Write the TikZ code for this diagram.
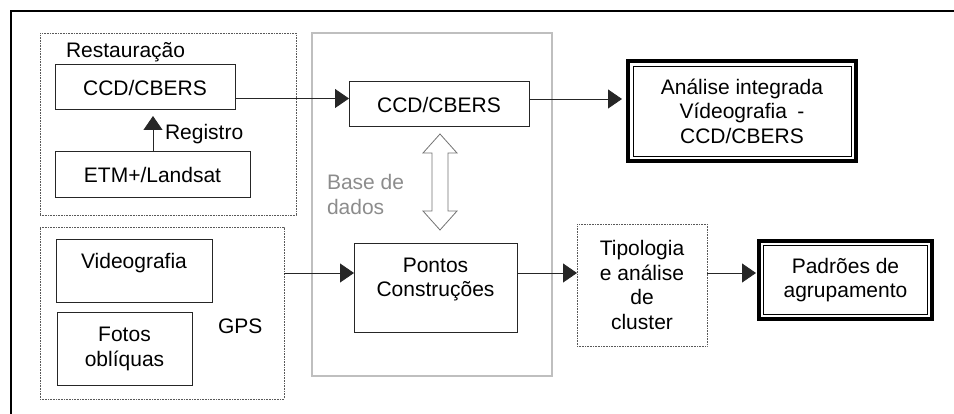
\documentclass[tikz,border=0pt]{standalone}
\usepackage{fontspec}
\setmainfont{Liberation Sans}
\usetikzlibrary{arrows.meta,calc}
\begin{document}
\begin{tikzpicture}[x=1pt,y=-1pt,
  every node/.style={font=\fontsize{21}{24.5}\selectfont, inner sep=0pt, outer sep=0pt},
  sz/.style 2 args={minimum width=#1pt, minimum height=#2pt},
  box/.style={draw=black!85, line width=1pt, align=center},
  dotbox/.style={draw=black!65, line width=0.7pt, dash pattern=on 0.8pt off 0.8pt, align=center},
  basebox/.style={draw=black!25, line width=1.6pt},
  dblbox/.style={draw=black, line width=3.6pt, align=center},
  inner/.style={draw=black, line width=0.9pt},
  arr/.style={draw=black!85, line width=0.9pt, -{Triangle[length=14pt,width=19pt]}},
  hollow/.style={draw=black!55, line width=0.8pt, fill=white},
  note/.style={anchor=west, align=left}
]
\useasboundingbox (0,0) rectangle (954,414);
% outer frame (top and left edges)
\draw[line width=2pt] (954,11) -- (11,11) -- (11,414);

% groups
\node[dotbox, sz={256}{182}] (grp1) at (168,124) {};
\node[dotbox, sz={244}{172}] (grp2) at (162,313) {};
\node[basebox, sz={240}{343}] (base) at (432,204.5) {};

% left column
\node[note] (rest) at (66,52) {Restauração};
\node[box, sz={180}{45}] (ccd1) at (145,87.5) {CCD/CBERS};
\node[box, sz={195}{46}] (etm) at (152.5,175) {ETM+/Landsat};
\node[note] (reg) at (165,134) {Registro};
\node[box, sz={156}{63}] (video) at (134,271.5) {};
\node at ($(video.center)+(0,-8.5)$) {Videografia};
\node[box, sz={135}{72}] (fotos) at (124.5,349) {Fotos\\oblíquas};
\node[note] (gps) at (218,326) {GPS};

% middle column
\node[box, sz={180}{45}] (ccd2) at (439,104.5) {CCD/CBERS};
\node[box, sz={163}{89}] (pontos) at (435.5,288.5) {};
\node[align=center] at ($(pontos.center)+(0,-9)$) {Pontos\\Construções};
\node[note, text=black!45] (bd) at (327,194.5) {Base de\\dados};

% right column
\node[dblbox, sz={228}{100}] (analise) at (742,111) {Análise integrada\\Vídeografia\enspace -\\CCD/CBERS};
\draw[inner] ([shift={(5pt,-5pt)}]analise.north west) rectangle ([shift={(-5pt,5pt)}]analise.south east);
\node[dotbox, sz={130}{122}] (tipo) at (642,285) {Tipologia\\e análise\\de\\cluster};
\node[dblbox, sz={173}{78.5}] (padroes) at (845.5,280) {Padrões de\\agrupamento};
\draw[inner] ([shift={(4.5pt,-4.5pt)}]padroes.north west) rectangle ([shift={(-4.5pt,4.5pt)}]padroes.south east);

% connectors
\coordinate (r0) at (0,98.5);
\coordinate (r1) at (0,99);
\coordinate (r2) at (0,273);
\coordinate (rx) at (153,0);
\draw[arr] (etm.north -| rx) -- ($(ccd1.south -| rx)+(0,6)$);
\draw[arr] (ccd1.east |- r0) -- (ccd2.west |- r0);
\draw[arr] (ccd2.east |- r1) -- ($(analise.west |- r1)+(-6,0)$);
\draw[arr] (grp2.east |- r2) -- (pontos.west |- r2);
\draw[arr] (pontos.east |- r2) -- (tipo.west |- r2);
\draw[arr] (tipo.east |- r2) -- ($(padroes.west |- r2)+(-3,0)$);

% hollow double arrow between database items
\coordinate (dt) at ($(ccd2.south)+(1,7)$);
\draw[hollow] (dt) -- ++(17,19) -- ++(-9,0) -- ++(0,58) -- ++(9,0) -- ++(-17,19)
  -- ++(-17,-19) -- ++(9,0) -- ++(0,-58) -- ++(-9,0) -- cycle;
\end{tikzpicture}
\end{document}
